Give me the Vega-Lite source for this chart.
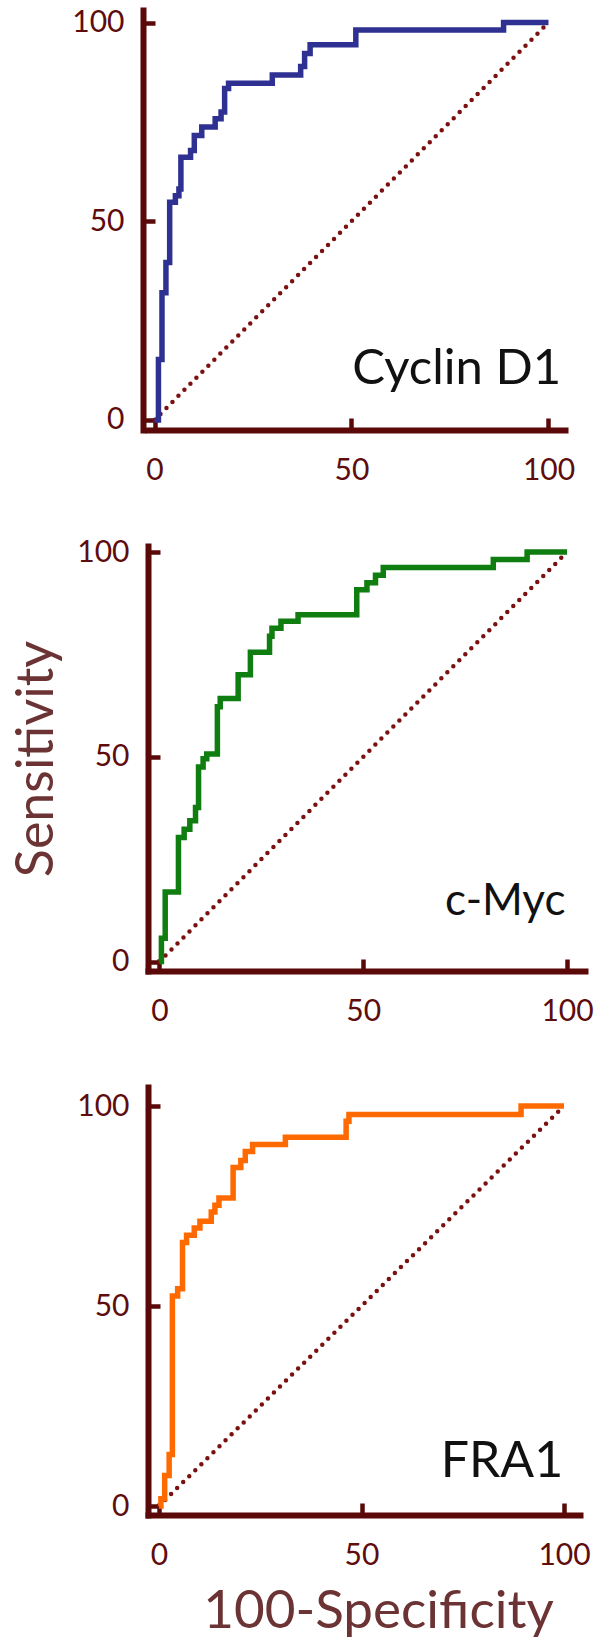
{
  "$schema": "https://vega.github.io/schema/vega-lite/v6.json",
  "background": "white",
  "padding": {"left": 10, "top": 7, "right": 0, "bottom": 0},
  "bounds": "flush",
  "spacing": 116,
  "config": {
    "view": {"stroke": null},
    "font": "Lato",
    "axis": {
      "grid": false,
      "domainColor": "#5a0808", "domainWidth": 6, "domainCap": "square",
      "tickColor": "#5a0808", "tickWidth": 4.5, "tickSize": -12,
      "labelFont": "Lato", "labelFontSize": 30, "labelColor": "#5e0c0c",
      "labelFlush": false, "labelOverlap": false,
      "titleFont": "Lato", "titleFontSize": 52, "titleFontWeight": "normal", "titleColor": "#6b3333"
    },
    "axisX": {"labelPadding": 37, "titlePadding": 14},
    "axisY": {"labelPadding": 31, "titlePadding": 13}
  },
  "datasets": {
    "diag": [{"x": 0, "y": 0, "i": 0}, {"x": 100, "y": 100, "i": 1}],
    "cyclin": [
      {"i":0,"x":0,"y":0},{"i":1,"x":1,"y":0},{"i":2,"x":1,"y":15.2},{"i":3,"x":1.9,"y":15.2},{"i":4,"x":1.9,"y":32},{"i":5,"x":2.9,"y":32},{"i":6,"x":2.9,"y":39.6},{"i":7,"x":3.85,"y":39.6},{"i":8,"x":3.85,"y":54.8},{"i":9,"x":5.3,"y":54.8},{"i":10,"x":5.3,"y":56.4},{"i":11,"x":6.2,"y":56.4},{"i":12,"x":6.2,"y":58.1},{"i":13,"x":6.7,"y":58.1},{"i":14,"x":6.7,"y":66.1},{"i":15,"x":9.15,"y":66.1},{"i":16,"x":9.15,"y":67.8},{"i":17,"x":10.1,"y":67.8},{"i":18,"x":10.1,"y":71.6},{"i":19,"x":12,"y":71.6},{"i":20,"x":12,"y":73.7},{"i":21,"x":15.4,"y":73.7},{"i":22,"x":15.4,"y":75.8},{"i":23,"x":16.9,"y":75.8},{"i":24,"x":16.9,"y":77.5},{"i":25,"x":17.8,"y":77.5},{"i":26,"x":17.8,"y":83.4},{"i":27,"x":18.8,"y":83.4},{"i":28,"x":18.8,"y":84.7},{"i":29,"x":29.9,"y":84.7},{"i":30,"x":29.9,"y":86.8},{"i":31,"x":37.1,"y":86.8},{"i":32,"x":37.1,"y":88.9},{"i":33,"x":38.1,"y":88.9},{"i":34,"x":38.1,"y":92.2},{"i":35,"x":39.5,"y":92.2},{"i":36,"x":39.5,"y":94.4},{"i":37,"x":51.1,"y":94.4},{"i":38,"x":51.1,"y":98.1},{"i":39,"x":88.6,"y":98.1},{"i":40,"x":88.6,"y":100},{"i":41,"x":100,"y":100}
    ],
    "myc": [
      {"i":0,"x":0,"y":0},{"i":1,"x":0.47,"y":0},{"i":2,"x":0.47,"y":5.7},{"i":3,"x":1.4,"y":5.7},{"i":4,"x":1.4,"y":17},{"i":5,"x":4.65,"y":17},{"i":6,"x":4.65,"y":30.3},{"i":7,"x":6.05,"y":30.3},{"i":8,"x":6.05,"y":32.3},{"i":9,"x":7.44,"y":32.3},{"i":10,"x":7.44,"y":34.4},{"i":11,"x":8.84,"y":34.4},{"i":12,"x":8.84,"y":37.6},{"i":13,"x":9.58,"y":37.6},{"i":14,"x":9.58,"y":47.5},{"i":15,"x":10.7,"y":47.5},{"i":16,"x":10.7,"y":49.5},{"i":17,"x":11.6,"y":49.5},{"i":18,"x":11.6,"y":50.7},{"i":19,"x":14.2,"y":50.7},{"i":20,"x":14.2,"y":62.2},{"i":21,"x":14.9,"y":62.2},{"i":22,"x":14.9,"y":64.2},{"i":23,"x":19.3,"y":64.2},{"i":24,"x":19.3,"y":70},{"i":25,"x":22.3,"y":70},{"i":26,"x":22.3,"y":75.5},{"i":27,"x":27,"y":75.5},{"i":28,"x":27,"y":79.4},{"i":29,"x":27.6,"y":79.4},{"i":30,"x":27.6,"y":81.4},{"i":31,"x":29.8,"y":81.4},{"i":32,"x":29.8,"y":83.1},{"i":33,"x":34,"y":83.1},{"i":34,"x":34,"y":84.7},{"i":35,"x":48.4,"y":84.7},{"i":36,"x":48.4,"y":90.8},{"i":37,"x":50.9,"y":90.8},{"i":38,"x":50.9,"y":92.5},{"i":39,"x":53,"y":92.5},{"i":40,"x":53,"y":94.3},{"i":41,"x":54.9,"y":94.3},{"i":42,"x":54.9,"y":96.2},{"i":43,"x":81.9,"y":96.2},{"i":44,"x":81.9,"y":98.2},{"i":45,"x":90.2,"y":98.2},{"i":46,"x":90.2,"y":100},{"i":47,"x":100,"y":100}
    ],
    "fra1": [
      {"i":0,"x":0,"y":0},{"i":1,"x":0.47,"y":0},{"i":2,"x":0.47,"y":1.8},{"i":3,"x":1.4,"y":1.8},{"i":4,"x":1.4,"y":7.6},{"i":5,"x":2.5,"y":7.6},{"i":6,"x":2.5,"y":12.9},{"i":7,"x":3.3,"y":12.9},{"i":8,"x":3.3,"y":52.5},{"i":9,"x":4.6,"y":52.5},{"i":10,"x":4.6,"y":54.3},{"i":11,"x":5.8,"y":54.3},{"i":12,"x":5.8,"y":65.9},{"i":13,"x":6.8,"y":65.9},{"i":14,"x":6.8,"y":67.7},{"i":15,"x":8.7,"y":67.7},{"i":16,"x":8.7,"y":69.5},{"i":17,"x":10.1,"y":69.5},{"i":18,"x":10.1,"y":71.2},{"i":19,"x":12.9,"y":71.2},{"i":20,"x":12.9,"y":73.5},{"i":21,"x":13.8,"y":73.5},{"i":22,"x":13.8,"y":75.2},{"i":23,"x":14.8,"y":75.2},{"i":24,"x":14.8,"y":77},{"i":25,"x":18.3,"y":77},{"i":26,"x":18.3,"y":84.6},{"i":27,"x":20.2,"y":84.6},{"i":28,"x":20.2,"y":86.4},{"i":29,"x":21.3,"y":86.4},{"i":30,"x":21.3,"y":88.6},{"i":31,"x":23.1,"y":88.6},{"i":32,"x":23.1,"y":90.4},{"i":33,"x":31.2,"y":90.4},{"i":34,"x":31.2,"y":92.2},{"i":35,"x":46.2,"y":92.2},{"i":36,"x":46.2,"y":96.2},{"i":37,"x":46.9,"y":96.2},{"i":38,"x":46.9,"y":97.9},{"i":39,"x":89.4,"y":97.9},{"i":40,"x":89.4,"y":100},{"i":41,"x":100,"y":100}
    ]
  },
  "vconcat": [
    {
      "width": 417, "height": 420,
      "encoding": {
        "x": {"field": "x", "type": "quantitative", "scale": {"domain": [-1.65, 104.19], "nice": false, "zero": false}, "axis": {"values": [0, 50, 100], "title": null}},
        "y": {"field": "y", "type": "quantitative", "scale": {"domain": [-2.516, 103.145], "nice": false, "zero": false}, "axis": {"values": [0, 50, 100], "title": null, "offset": 5}}
      },
      "layer": [
        {"data": {"name": "diag"}, "mark": {"type": "line", "color": "#7a1010", "strokeWidth": 4.5, "strokeDash": [0, 8.5], "strokeCap": "round"}, "encoding": {"order": {"field": "i"}}},
        {"data": {"name": "cyclin"}, "mark": {"type": "line", "color": "#2e3192", "strokeWidth": 5.5, "strokeJoin": "miter"}, "encoding": {"order": {"field": "i"}}},
        {"data": {"values": [{"label": "Cyclin D1", "x": 103.2, "y": 9.1}]}, "mark": {"type": "text", "align": "right", "baseline": "alphabetic", "font": "Lato", "fontSize": 49, "color": "#111111"}, "encoding": {"text": {"field": "label"}}}
      ]
    },
    {
      "width": 437, "height": 425,
      "encoding": {
        "x": {"field": "x", "type": "quantitative", "scale": {"domain": [-2.82, 104.4], "nice": false, "zero": false}, "axis": {"values": [0, 50, 100], "title": null}},
        "y": {"field": "y", "type": "quantitative", "scale": {"domain": [-2.32, 101.47], "nice": false, "zero": false}, "axis": {"values": [0, 50, 100], "title": "Sensitivity"}}
      },
      "layer": [
        {"data": {"name": "diag"}, "mark": {"type": "line", "color": "#7a1010", "strokeWidth": 4.5, "strokeDash": [0, 8.5], "strokeCap": "round"}, "encoding": {"order": {"field": "i"}}},
        {"data": {"name": "myc"}, "mark": {"type": "line", "color": "#0f7d0f", "strokeWidth": 5.5, "strokeJoin": "miter"}, "encoding": {"order": {"field": "i"}}},
        {"data": {"values": [{"label": "c-Myc", "x": 99.6, "y": 11.4}]}, "mark": {"type": "text", "align": "right", "baseline": "alphabetic", "font": "Lato", "fontSize": 44, "color": "#111111"}, "encoding": {"text": {"field": "label"}}}
      ]
    },
    {
      "width": 432, "height": 428,
      "encoding": {
        "x": {"field": "x", "type": "quantitative", "scale": {"domain": [-2.72, 103.95], "nice": false, "zero": false}, "axis": {"values": [0, 50, 100], "title": "100-Specificity", "titlePadding": 15, "titleFontSize": 53, "titleX": 230}},
        "y": {"field": "y", "type": "quantitative", "scale": {"domain": [-2.25, 104.75], "nice": false, "zero": false}, "axis": {"values": [0, 50, 100], "title": null}}
      },
      "layer": [
        {"data": {"name": "diag"}, "mark": {"type": "line", "color": "#7a1010", "strokeWidth": 4.5, "strokeDash": [0, 8.5], "strokeCap": "round"}, "encoding": {"order": {"field": "i"}}},
        {"data": {"name": "fra1"}, "mark": {"type": "line", "color": "#ff6a00", "strokeWidth": 5.5, "strokeJoin": "miter"}, "encoding": {"order": {"field": "i"}}},
        {"data": {"values": [{"label": "FRA1", "x": 99.8, "y": 7.25}]}, "mark": {"type": "text", "align": "right", "baseline": "alphabetic", "font": "Lato", "fontSize": 50, "color": "#111111"}, "encoding": {"text": {"field": "label"}}}
      ]
    }
  ]
}
